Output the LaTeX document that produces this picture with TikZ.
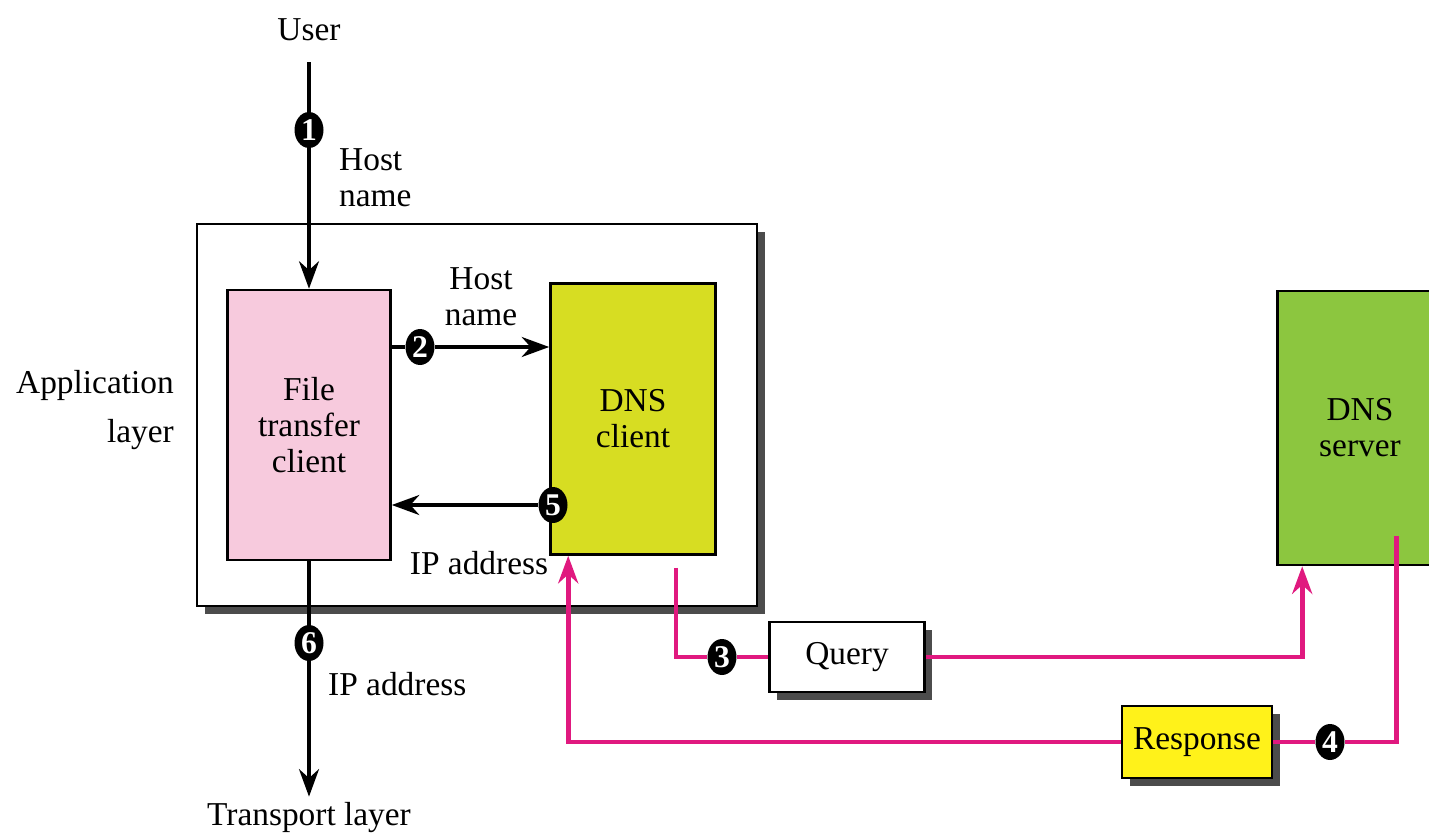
\documentclass[tikz,border=0pt]{standalone}
\usepackage{fontspec}
\setmainfont{Liberation Serif}
\usetikzlibrary{arrows.meta,positioning,shadows,shapes.geometric}
\definecolor{ftcpink}{HTML}{F7CADD}
\definecolor{dnsyel}{HTML}{D7DD22}
\definecolor{srvgreen}{HTML}{8CC63F}
\definecolor{respyel}{HTML}{FFF21A}
\definecolor{magline}{HTML}{E0197F}

\begin{document}
\begin{tikzpicture}[x=0.02cm, y=-0.02cm, >={Stealth[length=0.55cm,width=0.4cm]},
  every node/.style={font=\fontsize{19}{20.5}\selectfont},
  box/.style={draw, line width=1.5pt, align=center},
  shadowed/.style={drop shadow={shadow xshift=4.5pt, shadow yshift=-4.5pt, fill=black!70, opacity=1}},
  num/.style={ellipse, fill=black, text=white, inner sep=0pt, minimum width=0.58cm,
    minimum height=0.72cm, font=\bfseries\fontsize{18}{18}\selectfont},
  flow/.style={line width=2pt},
  msg/.style={line width=2.8pt, draw=magline}]
\useasboundingbox (0,0) rectangle (1429,838);
\clip (0,0) rectangle (1429,838);

% boxes
\node[box, shadowed, fill=white, minimum width=11.2cm, minimum height=7.64cm] (app) at (477,415) {};
\node[box, fill=ftcpink, minimum width=3.26cm, minimum height=5.4cm] (ftc) at (309,425) {File\\transfer\\client};
\node[box, fill=dnsyel, minimum width=3.3cm, minimum height=5.42cm] (dnsc) at (633,419) {DNS\\client};
\node[box, fill=srvgreen, minimum width=3.3cm, minimum height=5.48cm] (dnss) at (1360,428) {DNS\\server};
\node[box, shadowed, fill=white, minimum width=3.1cm, minimum height=1.4cm] (qry) at (847,657) {Query};
\node[box, shadowed, fill=respyel, minimum width=3.0cm, minimum height=1.44cm] (resp) at (1197,742) {Response};

% texts
\node (user) at (309,30) {User};
\node (tl) at (309,818) {Transport layer};
\node[align=right, anchor=east] (applbl) at (180,410) {Application\\[0.25cm]layer};
\node[align=left, anchor=west] (hn1) at (333,178) {Host\\name};
\node[align=center] (hn2) at (481,297) {Host\\name};
\node (ip5) at (479,563) {IP address};
\node[anchor=west] (ip6) at (322,684) {IP address};

% step numbers
\node[num] (s1) at (309,130) {1};
\node[num] (s2) at (420,347) {2};
\node[num] (s3) at (722,657) {3};
\node[num] (s4) at (1330,742) {4};
\node[num] (s5) at (553,505) {5};
\node[num] (s6) at (309,643) {6};

% inside the host
\draw[flow, shorten <=0.3cm] (user) -- (s1);
\draw[flow, ->] (s1) -- (ftc);
\draw[flow] (ftc.east |- s2) -- (s2);
\draw[flow, ->] (s2) -- (dnsc.west |- s2);
\draw[flow, ->] (s5) -- (ftc.east |- s5);
\draw[flow] (ftc) -- (s6);
\draw[flow, ->] (s6) -- (tl);

% query and response
\coordinate (qout) at ([xshift=0.86cm, yshift=-0.24cm]dnsc.south);
\coordinate (qin) at ([xshift=0.52cm]dnss.south west);
\coordinate (rout) at ([shift={(2.4cm,0.6cm)}]dnss.south west);
\coordinate (rin) at ([xshift=0.38cm]dnsc.south west);
\draw[msg] (qout) |- (s3) -- (qry);
\draw[msg, ->] (qry) -| (qin);
\draw[msg] (rout) |- (s4) -- (resp);
\draw[msg, ->] (resp) -| (rin);
\end{tikzpicture}
\end{document}
